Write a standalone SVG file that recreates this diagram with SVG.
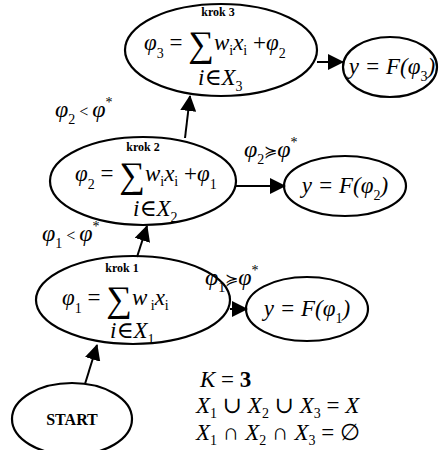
<svg xmlns="http://www.w3.org/2000/svg" width="445" height="450" viewBox="0 0 445 450">
<defs>
<marker id="ah" markerWidth="16" markerHeight="16" refX="15" refY="8" orient="auto" markerUnits="userSpaceOnUse">
<path d="M0,0 L16,8 L0,16 Z" fill="#000"/>
</marker>
<style>
.n{fill:#fff;stroke:#000;stroke-width:2.2}
.e{stroke:#000;stroke-width:2;fill:none;marker-end:url(#ah)}
text{font-family:"Liberation Serif","DejaVu Serif","Times New Roman",serif;fill:#000}
.k{font-size:12px;font-weight:bold}
.m{font-size:23px;font-style:italic}
.s{font-size:14px;font-style:normal}
.sig{font-size:36px;font-style:normal}
.lab{font-size:24px;font-style:italic}
.st{font-size:16px;font-weight:bold}
</style>
</defs>
<rect width="445" height="450" fill="#fff"/>
<g id="krok3">
<ellipse class="n" cx="221" cy="50" rx="96" ry="46"/>
<text class="k" x="218" y="16" text-anchor="middle">krok 3</text>
<text class="m" x="144" y="50">φ<tspan class="s" dy="8">3</tspan><tspan dy="-8" font-style="normal"> = </tspan><tspan class="sig" dy="6">∑</tspan><tspan dy="-6">w</tspan><tspan class="s" dy="5" font-style="italic">i</tspan><tspan dy="-5">x</tspan><tspan class="s" dy="5" font-style="italic">i</tspan><tspan dy="-5" font-style="normal"> +</tspan>φ<tspan class="s" dy="8">2</tspan></text>
<text class="m" x="198" y="85" font-size="19">i<tspan font-style="normal">∈</tspan>X<tspan class="s" dy="6">3</tspan></text>
</g>
<g id="res3">
<ellipse class="n" cx="390" cy="67" rx="47" ry="30"/>
<text class="m" x="392" y="74" text-anchor="middle" font-size="21">y = F(φ<tspan class="s" dy="7">3</tspan><tspan dy="-7">)</tspan></text>
</g>
<g id="krok2">
<ellipse class="n" cx="143" cy="181" rx="93" ry="44"/>
<text class="k" x="143" y="151" text-anchor="middle">krok 2</text>
<text class="m" x="75" y="181">φ<tspan class="s" dy="8">2</tspan><tspan dy="-8" font-style="normal"> = </tspan><tspan class="sig" dy="6">∑</tspan><tspan dy="-6">w</tspan><tspan class="s" dy="5" font-style="italic">i</tspan><tspan dy="-5">x</tspan><tspan class="s" dy="5" font-style="italic">i</tspan><tspan dy="-5" font-style="normal"> +</tspan>φ<tspan class="s" dy="8">1</tspan></text>
<text class="m" x="133" y="216" font-size="19">i<tspan font-style="normal">∈</tspan>X<tspan class="s" dy="6">2</tspan></text>
</g>
<g id="res2">
<ellipse class="n" cx="345" cy="186" rx="61" ry="30"/>
<text class="m" x="345" y="193" text-anchor="middle" font-size="22">y = F(φ<tspan class="s" dy="7">2</tspan><tspan dy="-7">)</tspan></text>
</g>
<g id="krok1">
<ellipse class="n" cx="133" cy="300" rx="97" ry="44"/>
<text class="k" x="122" y="272" text-anchor="middle">krok 1</text>
<text class="m" x="62" y="305">φ<tspan class="s" dy="8">1</tspan><tspan dy="-8" font-style="normal"> = </tspan><tspan class="sig" dy="6">∑</tspan><tspan dy="-6">w</tspan><tspan class="s" dy="5" font-style="italic"> i</tspan><tspan dy="-5">x</tspan><tspan class="s" dy="5" font-style="italic">i</tspan></text>
<text class="m" x="110" y="338" font-size="19">i<tspan font-style="normal">∈</tspan>X<tspan class="s" dy="6">1</tspan></text>
</g>
<g id="res1">
<ellipse class="n" cx="307" cy="309" rx="61" ry="32"/>
<text class="m" x="307" y="316" text-anchor="middle" font-size="22">y = F(φ<tspan class="s" dy="7">1</tspan><tspan dy="-7">)</tspan></text>
</g>
<g id="start">
<ellipse class="n" cx="72" cy="419" rx="60" ry="36"/>
<text class="st" x="72" y="425" text-anchor="middle">START</text>
</g>
<g id="connectors">
<line class="e" x1="317" y1="62" x2="343" y2="62"/>
<line class="e" x1="236" y1="186" x2="285" y2="186"/>
<line class="e" x1="230" y1="309" x2="247" y2="309"/>
<line class="e" x1="85" y1="384" x2="97" y2="345"/>
<line class="e" x1="137" y1="257" x2="147" y2="226"/>
<line class="e" x1="185" y1="138" x2="190" y2="96"/>
<text class="lab" x="55" y="117">φ<tspan class="s" dy="7">2</tspan><tspan dy="-7" font-style="normal" font-size="16"> &lt; </tspan>φ<tspan class="s" dy="-10">*</tspan></text>
<text class="lab" x="244" y="157">φ<tspan class="s" dy="7">2</tspan><tspan dy="-7" font-style="normal" font-size="16">≽</tspan>φ<tspan class="s" dy="-10">*</tspan></text>
<text class="lab" x="42" y="241">φ<tspan class="s" dy="7">1</tspan><tspan dy="-7" font-style="normal" font-size="16"> &lt; </tspan>φ<tspan class="s" dy="-10">*</tspan></text>
<text class="lab" x="205" y="285">φ<tspan class="s" dy="7">1</tspan><tspan dy="-7" font-style="normal" font-size="16">≽</tspan>φ<tspan class="s" dy="-10">*</tspan></text>
</g>
<g id="notes">
<text class="m" x="200" y="387" font-size="19">K <tspan font-style="normal">= </tspan><tspan font-style="normal" font-weight="bold">3</tspan></text>
<text class="m" x="196" y="413" font-size="19">X<tspan class="s" dy="5">1</tspan><tspan dy="-5" font-style="normal"> ∪ </tspan>X<tspan class="s" dy="5">2</tspan><tspan dy="-5" font-style="normal"> ∪ </tspan>X<tspan class="s" dy="5">3</tspan><tspan dy="-5" font-style="normal"> = </tspan>X</text>
<text class="m" x="196" y="440" font-size="19">X<tspan class="s" dy="5">1</tspan><tspan dy="-5" font-style="normal"> ∩ </tspan>X<tspan class="s" dy="5">2</tspan><tspan dy="-5" font-style="normal"> ∩ </tspan>X<tspan class="s" dy="5">3</tspan><tspan dy="-5" font-style="normal"> = ∅</tspan></text>
</g>
</svg>
